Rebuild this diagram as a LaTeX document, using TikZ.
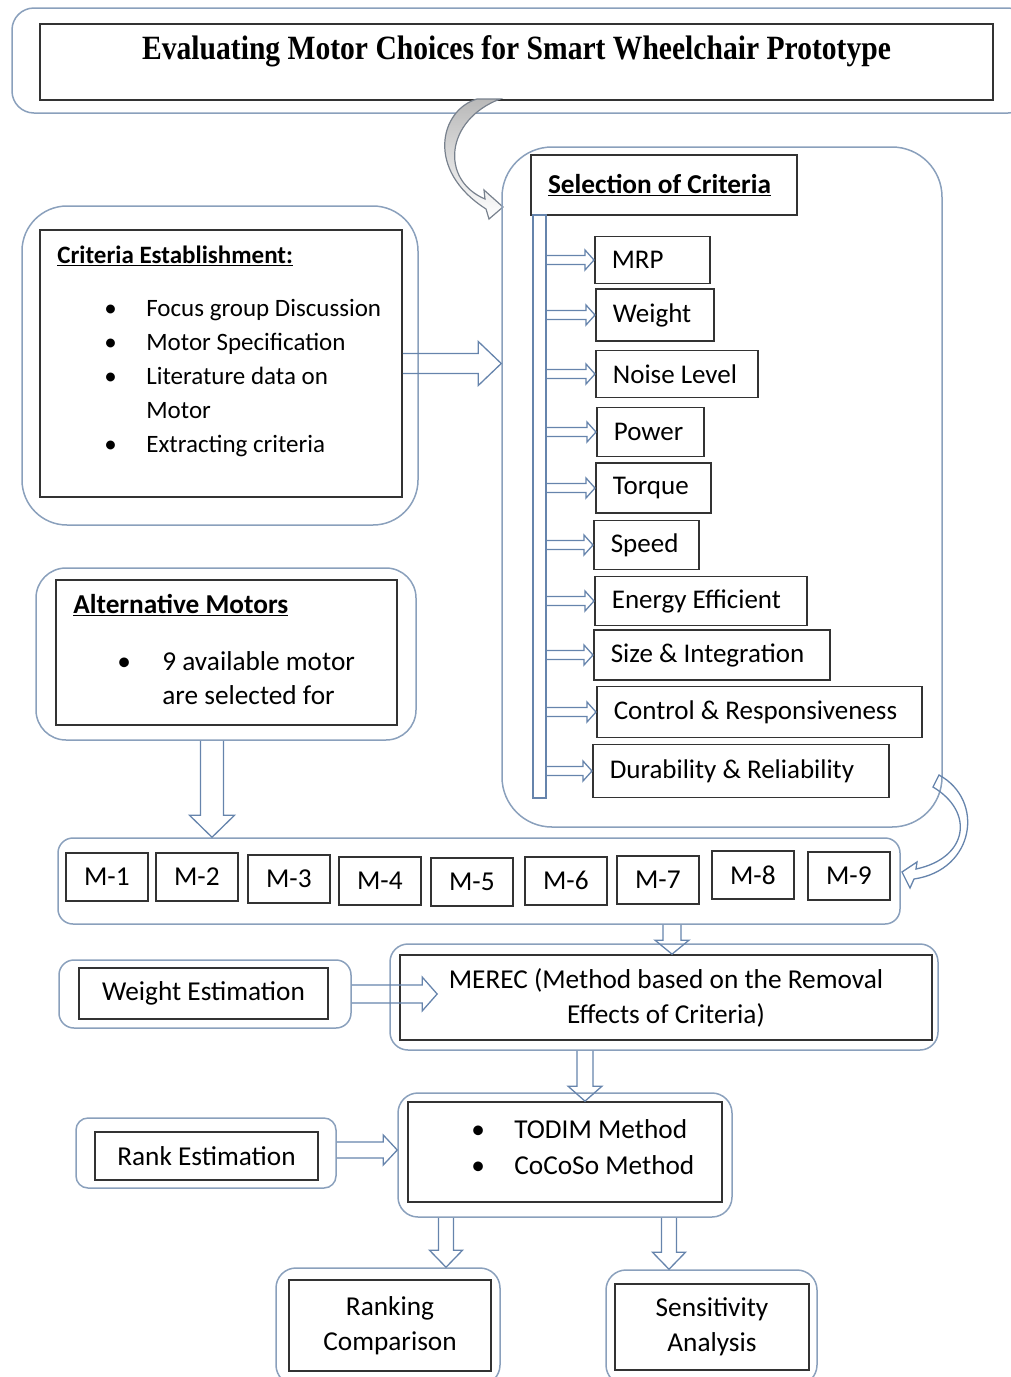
\documentclass[tikz,border=0pt]{standalone}
\usepackage{fontspec}
\setmainfont{Carlito}
\newfontfamily\titlefont[FakeStretch=0.87]{Liberation Serif}
\usetikzlibrary{calc}

\definecolor{rimblue}{RGB}{138,160,188}
\definecolor{arrblue}{RGB}{102,132,172}

% Hollow block arrows: #1 tail, #2 tip, #3 half shaft, #4 half head, #5 head length.
\newcommand{\rtarrow}[5]{%
\draw[hollow] let \p1=#1, \p2=#2 in (\x1,\y2+#3) -- (\x2-#5,\y2+#3) -- (\x2-#5,\y2+#4)
  -- (\x2,\y2) -- (\x2-#5,\y2-#4) -- (\x2-#5,\y2-#3) -- (\x1,\y2-#3);}
\newcommand{\dnarrow}[5]{%
\draw[hollow] let \p1=#1, \p2=#2 in (\x2-#3,\y1) -- (\x2-#3,\y2+#5) -- (\x2-#4,\y2+#5)
  -- (\x2,\y2) -- (\x2+#4,\y2+#5) -- (\x2+#3,\y2+#5) -- (\x2+#3,\y1);}

\begin{document}
\begin{tikzpicture}[x=1pt,y=-1pt,font=\fontsize{27.3}{34}\selectfont,
  outbox/.style={draw=rimblue,line width=1.5pt,rounded corners=#1},outbox/.default=15pt,
  inbox/.style={draw=black!80,line width=1.7pt},
  hollow/.style={draw=arrblue,line width=1.3pt,line join=miter}]
\useasboundingbox (0,0) rectangle (1011,1377);
\clip (0,0) rectangle (1011,1377);
% Title banner.
\node[outbox=22pt,minimum width=1018pt,minimum height=105pt] (titleout) at (521,60.5) {};
\node[inbox,minimum width=953pt,minimum height=76pt,inner ysep=0pt,text height=35pt,text depth=41pt,
  font=\titlefont\bfseries\fontsize{34}{40}\selectfont] (title) at (516.5,62)
  {Evaluating Motor Choices for Smart Wheelchair Prototype};
\draw[draw=gray!70!arrblue,line width=1.2pt,top color=gray!55,bottom color=white]
  (477,99) .. controls (440,110) and (425,170) .. (486,209) -- (489,219) -- (503,207) -- (484,190)
  -- (485,199) .. controls (440,180) and (445,120) .. (500,99) -- cycle;
% Criteria panel on the right.
\node[outbox=50pt,minimum width=440pt,minimum height=680pt] (selout) at (722,487) {};
\node[inbox,minimum width=266pt,minimum height=60pt,inner xsep=17pt,text width=232pt,align=flush left] (selhead) at (664,185)
  {\underline{\textbf{Selection of Criteria}}};
\node[draw=arrblue,line width=1.3pt,minimum width=13pt,minimum height=583pt,inner sep=0pt] (bar) at (539.5,506.5) {};
\foreach \i/\xl/\yc/\w/\h/\txt in {1/594/260/115/47/MRP,2/595/315/118/52/Weight,
  3/595/374/162/47/Noise Level,4/596/432/107/49/Power,5/595/488/115/50/Torque,
  6/593/545/105/49/Speed,7/594/601/212/49/Energy Efficient,8/593/655/236/50/Size \& Integration,
  9/596/712/325/51/Control \& Responsiveness,10/592/771/296/53/Durability \& Reliability}{
\pgfmathsetmacro\tw{\w-34}
\node[inbox,anchor=west,inner xsep=17pt,text width=\tw pt,align=flush left,minimum height=\h pt,
  font=\fontsize{27}{34}\selectfont] (c\i) at (\xl,\yc) {\txt};
\rtarrow{(bar.east)}{(c\i.west)}{4.5pt}{10pt}{9pt}
}
% Criteria establishment.
\node[outbox=45pt,minimum width=396pt,minimum height=319pt] (estout) at (220,365.5) {};
\node[inbox,minimum width=362pt,minimum height=267pt] (est) at (221,363.5) {};
\node[anchor=north west,inner sep=0pt,font=\fontsize{25}{34}\selectfont] (estlist) at ([shift={(18pt,-10pt)}]est.north west) {%
  \begin{tabular}[t]{@{}p{89pt}@{}l@{}}
  \multicolumn{2}{@{}l@{}}{\underline{\textbf{Criteria Establishment:}}}\\[19pt]
  \hspace*{47pt}\textbullet & Focus group Discussion\\
  \hspace*{47pt}\textbullet & Motor Specification\\
  \hspace*{47pt}\textbullet & Literature data on\\
  & Motor\\
  \hspace*{47pt}\textbullet & Extracting criteria
  \end{tabular}};
\rtarrow{(est.east)}{(est.east -| selout.west)}{10pt}{22pt}{23pt}
% Alternative motors.
\node[outbox=30pt,minimum width=380pt,minimum height=172pt] (altout) at (226,654) {};
\node[inbox,minimum width=341pt,minimum height=145pt] (alt) at (226.5,652.5) {};
\node[anchor=north west,inner sep=0pt] (altlist) at ([shift={(18pt,-10pt)}]alt.north west) {%
  \begin{tabular}[t]{@{}p{89pt}@{}l@{}}
  \multicolumn{2}{@{}l@{}}{\underline{\textbf{Alternative Motors}}}\\[23pt]
  \hspace*{44pt}\textbullet & 9 available motor\\
  & are selected for
  \end{tabular}};
% Row of motors.
\node[outbox=15pt,minimum width=842pt,minimum height=86pt] (rowout) at (479,881) {};
\foreach \i/\xl/\yt in {1/65/852,2/155/852,3/247/854,4/338/856,5/430/857,6/524/856,7/616/855,8/711/850,9/807/851}
  \node[inbox,anchor=north west,minimum width=82pt,minimum height=48pt] (m\i) at (\xl,\yt) {M-\i};
\dnarrow{(altout.south)}{([xshift=-14pt]altout.south |- rowout.north)}{11.5pt}{22.5pt}{22pt}
\draw[hollow] (939,775) .. controls (985,800) and (975,870) .. (914,879) -- (910,888) -- (902,872)
  -- (917,862) -- (916,869) .. controls (968,858) and (975,812) .. (933,787) -- cycle;
% Weighting step.
\node[outbox=18pt,minimum width=548pt,minimum height=106pt] (merout) at (664,997) {};
\node[inbox,minimum width=532pt,minimum height=85pt,align=center,font=\fontsize{27.3}{35}\selectfont] (merec) at (666,997.5)
  {MEREC (Method based on the Removal\\Effects of Criteria)};
\node[outbox=15pt,minimum width=292pt,minimum height=68pt] (wgtout) at (205,994) {};
\node[inbox,minimum width=249pt,minimum height=51pt] (wgt) at (203.5,993.5) {Weight Estimation};
\dnarrow{(rowout.south)}{([xshift=6pt]merec.north)}{9pt}{17pt}{14pt}
\rtarrow{(wgtout.east)}{([xshift=38pt]wgtout.east -| merec.west)}{9pt}{17pt}{15pt}
% Ranking step.
\node[outbox=20pt,minimum width=334pt,minimum height=124pt] (mthout) at (565,1155) {};
\node[inbox,minimum width=314pt,minimum height=100pt] (mth) at (565,1152) {};
\node[anchor=north west,inner sep=0pt,font=\fontsize{27.3}{36}\selectfont] (mthlist) at ([shift={(64pt,-12pt)}]mth.north west) {%
  \begin{tabular}[t]{@{}p{43pt}@{}l@{}}
  \textbullet & TODIM Method\\
  \textbullet & CoCoSo Method
  \end{tabular}};
\node[outbox=12pt,minimum width=260pt,minimum height=70pt] (rnkout) at (206,1153) {};
\node[inbox,minimum width=223pt,minimum height=48pt] (rnk) at (206.5,1156) {Rank Estimation};
\dnarrow{(merout.south)}{([xshift=20pt]mth.north)}{8pt}{17pt}{15pt}
\rtarrow{(rnkout.east)}{([yshift=3pt]rnkout.east -| mthout.west)}{8pt}{15pt}{14pt}
% Outputs.
\node[outbox=20pt,minimum width=224pt,minimum height=117pt] (cmpout) at (388,1326.5) {};
\node[inbox,minimum width=202pt,minimum height=91pt,align=center,font=\fontsize{27.3}{35}\selectfont] (cmp) at (390,1325.5) {Ranking\\Comparison};
\node[outbox=20pt,minimum width=211pt,minimum height=115pt] (senout) at (711.5,1327.5) {};
\node[inbox,minimum width=194pt,minimum height=86pt,align=center,font=\fontsize{27.3}{35}\selectfont] (sen) at (712,1327) {Sensitivity\\Analysis};
\dnarrow{(mthout.south)}{([xshift=58pt]cmpout.north)}{7.5pt}{16.5pt}{17pt}
\dnarrow{(mthout.south)}{([xshift=-42.5pt]senout.north)}{7.5pt}{16.5pt}{17pt}
\end{tikzpicture}
\end{document}
